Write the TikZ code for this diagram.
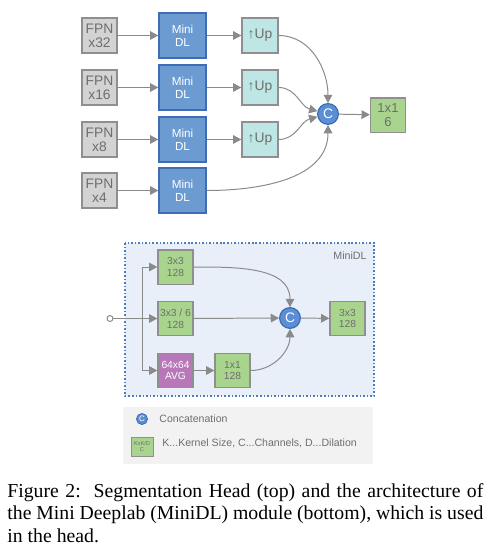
\documentclass[tikz,border=0pt]{standalone}
\usepackage{fontspec}
\setmainfont{Liberation Serif}
\setsansfont{Liberation Sans}
\usepackage{tikz}
\usetikzlibrary{arrows.meta}

\definecolor{fpnfill}{HTML}{D3D3D3}
\definecolor{boxline}{HTML}{8F8F8F}
\definecolor{txtgray}{HTML}{6E6E6E}
\definecolor{dlfill}{HTML}{6C9BD2}
\definecolor{dlline}{HTML}{3E6DB3}
\definecolor{upfill}{HTML}{BEE6E4}
\definecolor{convfill}{HTML}{A9D48E}
\definecolor{avgfill}{HTML}{B878B8}
\definecolor{catfill}{HTML}{5B8ED4}
\definecolor{catline}{HTML}{3C6CB2}
\definecolor{panelfill}{HTML}{E9EFF9}
\definecolor{panelline}{HTML}{4A7CC4}
\definecolor{legendfill}{HTML}{F2F2F2}
\definecolor{edgegray}{HTML}{8A8A8A}

\begin{document}
\begin{tikzpicture}[x=0.5063pt,y=0.5063pt]
\tikzset{box/.style = {shape=rectangle,draw=boxline,line width=0.7pt,inner sep=0pt,align=center,text=txtgray}}
\tikzset{fpn/.style = {box,fill=fpnfill,minimum width=17.7pt,minimum height=17.7pt,font=\sffamily\fontsize{7}{7.1}\selectfont}}
\tikzset{minidl/.style = {box,draw=dlline,fill=dlfill,text=white,minimum width=23.8pt,minimum height=22.8pt,font=\sffamily\fontsize{5.9}{6.7}\selectfont}}
\tikzset{up/.style = {box,fill=upfill,minimum width=18.2pt,minimum height=17.7pt,font=\sffamily\fontsize{7}{7}\selectfont}}
\tikzset{conv/.style = {box,fill=convfill,minimum width=17.7pt,minimum height=17.4pt,font=\sffamily\fontsize{5.2}{6}\selectfont}}
\tikzset{avg/.style = {conv,fill=avgfill,text=white}}
\tikzset{cat/.style = {shape=circle,draw=catline,line width=0.6pt,fill=catfill,text=white,inner sep=0pt,minimum size=10.5pt,font=\sffamily\fontsize{7}{7}\selectfont}}
\tikzset{edge/.style = {draw=edgegray,line width=0.5pt,-{Triangle[length=4.2pt,width=4.4pt]},edgegray}}
\tikzset{legendtext/.style = {text=txtgray,anchor=west,inner sep=0pt,font=\sffamily\fontsize{5.35}{6}\selectfont}}
\useasboundingbox (0,0) rectangle (491,-559);
% segmentation head
\node[fpn] (f32) at (99.5,-35.5) {FPN\\x32};
\node[fpn] (f16) at (99.5,-87.5) {FPN\\x16};
\node[fpn] (f8) at (99.5,-139.5) {FPN\\x8};
\node[fpn] (f4) at (99.5,-190.5) {FPN\\x4};
\node[minidl] (d32) at (182.5,-35.5) {Mini\\DL};
\node[minidl] (d16) at (182.5,-87.5) {Mini\\DL};
\node[minidl] (d8) at (182.5,-139.5) {Mini\\DL};
\node[minidl] (d4) at (182.5,-190.5) {Mini\\DL};
\node[up] (u32) at (260,-35.5) {↑Up};
\node[up] (u16) at (260,-87.5) {↑Up};
\node[up] (u8) at (260,-139.5) {↑Up};
\node[cat] (c) at (328,-114) {C};
\node[conv,font=\sffamily\fontsize{6.6}{7}\selectfont] (out) at (388,-115) {1x1\\6};
%edges
\draw[edge] (f32) to (d32);
\draw[edge] (f16) to (d16);
\draw[edge] (f8) to (d8);
\draw[edge] (f4) to (d4);
\draw[edge] (d32) to (u32);
\draw[edge] (d16) to (u16);
\draw[edge] (d8) to (u8);
\draw[edge] (u32.east) to[out=0,in=90] (c.north);
\draw[edge] (u16.east) to[out=0,in=165] (c);
\draw[edge] (u8.east) to[out=0,in=195] (c);
\draw[edge] (d4.east) to[out=0,in=-90] (c.south);
\draw[edge] (c) to (out);
% mini deeplab
\draw[panelline,fill=panelfill,densely dotted,line width=0.8pt] (125,-243) rectangle (374,-396);
\node[text=txtgray,font=\sffamily\fontsize{5.4}{6}\selectfont] (title) at (350,-256) {MiniDL};
\node[circle,draw=edgegray,fill=white,line width=0.5pt,inner sep=0pt,minimum size=3pt] (in) at (110,-318.5) {};
\coordinate (split) at (142,-318.5);
\node[conv] (k3) at (175.5,-267) {3x3\\128};
\node[conv] (k3d) at (175.5,-318.5) {3x3 / 6\\128};
\node[avg] (pool) at (175.5,-370.5) {64x64\\AVG};
\node[conv] (k1) at (232.5,-370.5) {1x1\\128};
\node[cat] (c2) at (290,-318) {C};
\node[conv] (k3o) at (347.5,-318.5) {3x3\\128};
%edges
\draw[edge] (in) to (k3d);
\draw[edge] (split) |- (k3);
\draw[edge] (split) |- (pool);
\draw[edge] (pool) to (k1);
\draw[edge] (k3.east) to[out=0,in=90] (c2.north);
\draw[edge] (k3d) to (c2);
\draw[edge] (k1.east) to[out=0,in=-90] (c2.south);
\draw[edge] (c2) to (k3o);
% legend
\fill[legendfill] (123,-407) rectangle (373,-464);
\node[cat,minimum size=5.6pt,line width=0.4pt,font=\sffamily\fontsize{4}{4}\selectfont] (lc) at (142,-419) {C};
\node[legendtext] (lct) at (159,-419) {Concatenation};
\node[conv,minimum width=11.1pt,minimum height=9.6pt,line width=0.4pt,font=\sffamily\fontsize{2.9}{3.4}\selectfont] (lk) at (142,-446.5) {KxK/D\\C};
\node[legendtext] (lkt) at (162,-443.5) {K...Kernel Size, C...Channels, D...Dilation};
% caption
\node[anchor=north west,inner sep=0pt,text width=241pt,align=justify,font=\rmfamily\fontsize{10}{11.4}\selectfont] (cap) at (7,-483) {Figure 2:\ \ Segmentation Head (top) and the architecture of\linebreak the Mini Deeplab (MiniDL) module (bottom), which is used\linebreak in the head.};
\end{tikzpicture}
\end{document}
